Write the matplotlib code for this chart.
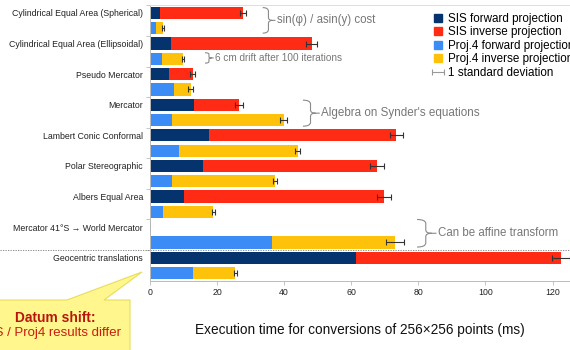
import numpy as np
import matplotlib
matplotlib.use("Agg")
import matplotlib.pyplot as plt
import matplotlib.transforms as mtransforms
from matplotlib.path import Path
from matplotlib.patches import PathPatch, Patch, Polygon
from matplotlib.lines import Line2D

plt.rcParams['font.family'] = ['Liberation Sans', 'DejaVu Sans']

# conversion times (ms) for 256x256 points
labels = ["Cylindrical Equal Area (Spherical)", "Cylindrical Equal Area (Ellipsoidal)",
          "Pseudo Mercator", "Mercator", "Lambert Conic Conformal", "Polar Stereographic",
          "Albers Equal Area", "Mercator 41°S \u2192 World Mercator", "Geocentric translations"]
sis_fwd = [2.9, 6.3, 5.7, 13.2, 17.7, 15.8, 10.1, 0.2, 61.5]
sis_inv = [24.9, 41.9, 7.0, 13.3, 55.7, 51.9, 59.6, 0.1, 61.1]
sis_err = [0.9, 1.7, 0.8, 1.2, 1.9, 2.1, 2.1, 0.0, 2.7]
proj_fwd = [1.7, 3.6, 7.1, 6.7, 8.7, 6.5, 4.0, 36.4, 12.7]
proj_inv = [2.2, 6.2, 5.0, 33.2, 35.3, 30.8, 14.9, 36.7, 12.7]
proj_err = [0.4, 0.2, 0.8, 1.0, 0.8, 0.5, 0.5, 2.7, 0.5]

c_sis_fwd = "#04336e"
c_sis_inv = "#ff2b14"
c_proj_fwd = "#3b8df5"
c_proj_inv = "#ffc20a"

fig = plt.figure(figsize=(5.7, 3.5), dpi=100)
ax = fig.add_axes([150/570, 1-281/350, 420/570, 276/350])

n = len(labels)
y_sis = np.arange(n) * 2
y_proj = y_sis + 1
h = 0.8
sis_fwd = np.array(sis_fwd); sis_inv = np.array(sis_inv)
proj_fwd = np.array(proj_fwd); proj_inv = np.array(proj_inv)

ax.barh(y_sis, sis_fwd, height=h, color=c_sis_fwd)
ax.barh(y_sis, sis_inv, left=sis_fwd, height=h, color=c_sis_inv)
ax.barh(y_proj, proj_fwd, height=h, color=c_proj_fwd)
ax.barh(y_proj, proj_inv, left=proj_fwd, height=h, color=c_proj_inv)

eb = dict(fmt='none', ecolor='#333333', elinewidth=0.8, capsize=2.2, capthick=0.8)
mask = np.array(sis_err) > 0
ax.errorbar((sis_fwd + sis_inv)[mask], y_sis[mask], xerr=np.array(sis_err)[mask], **eb)
ax.errorbar(proj_fwd + proj_inv, y_proj, xerr=proj_err, **eb)
# dummy errorbar, only used as legend handle
err_handle = ax.errorbar([-50], [-50], xerr=[3], fmt='none', ecolor='#999999',
                         elinewidth=0.8, capsize=2.5, capthick=0.8)

ax.set_xlim(0, 125.2)
ax.set_ylim(2*n - 0.48, -0.52)
ax.set_xticks(np.arange(0, 121, 20))
ax.tick_params(axis='x', labelsize=6.3, length=3, width=0.6, pad=2,
               colors='#bbbbbb', labelcolor='#222222')
ax.set_yticks(y_sis)
ax.set_yticklabels(labels, fontsize=6.3, color='#222222')
ax.tick_params(axis='y', which='major', length=0, pad=5)
ax.set_yticks(np.arange(n) * 2 - 0.5, minor=True)
ax.tick_params(axis='y', which='minor', length=3, width=0.6, color='#bbbbbb')
ax.spines['right'].set_visible(False)
ax.spines['left'].set_color('#bbbbbb')
ax.spines['bottom'].set_color('#bbbbbb')
ax.spines['top'].set_color('#dddddd')
for s in ['left', 'bottom', 'top']:
    ax.spines[s].set_linewidth(0.7)

ax.set_xlabel("Execution time for conversions of 256\u00d7256 points (ms)", fontsize=9.8,
              color='#111111', labelpad=19)

# dotted separator before datum shift
trans = mtransforms.blended_transform_factory(fig.transFigure, ax.transData)
ax.add_line(Line2D([0, 1], [2*n - 2.5, 2*n - 2.5], transform=trans, color='#777777',
                   linestyle=(0, (1.5, 1.5)), linewidth=0.6, clip_on=False))


def brace(x0, x1, y0, y1, text, size):
    w = x1 - x0
    hh = y1 - y0
    xm = x0 + 0.45*w
    xt = x0 + 0.75*w
    ym = (y0 + y1) / 2
    verts = [(x0, y0), (xm, y0), (xm, y0 + 0.15*hh), (xm, ym - 0.12*hh),
             (xm, ym), (xt, ym), (x1, ym),
             (xt, ym), (xm, ym), (xm, ym + 0.12*hh), (xm, y1 - 0.15*hh),
             (xm, y1), (x0, y1)]
    codes = [Path.MOVETO, Path.CURVE3, Path.CURVE3, Path.LINETO,
             Path.CURVE3, Path.CURVE3, Path.LINETO,
             Path.MOVETO, Path.CURVE3, Path.CURVE3, Path.LINETO,
             Path.CURVE3, Path.CURVE3]
    ax.add_patch(PathPatch(Path(verts, codes), fill=False, edgecolor='#8a8a8a',
                           linewidth=0.8, clip_on=False))
    ax.text(x1 + 0.4, ym, text, fontsize=size, color='#777777', va='center', ha='left',
            clip_on=False)


brace(33.6, 37.4, -0.35, 1.32, "sin(\u03c6) / asin(y) cost", 8.3)
brace(16.4, 19.0, 2.6, 3.28, "6 cm drift after 100 iterations", 7.2)
brace(45.6, 50.6, 5.7, 7.4, "Algebra on Synder's equations", 8.4)
brace(79.6, 85.4, 13.5, 15.3, "Can be affine transform", 8.3)

# legend
handles = [Patch(color=c_sis_fwd), Patch(color=c_sis_inv), Patch(color=c_proj_fwd),
           Patch(color=c_proj_inv), err_handle]
names = ["SIS forward projection", "SIS inverse projection", "Proj.4 forward projection",
         "Proj.4 inverse projection", "1 standard deviation"]
fig.legend(handles, names, loc='upper left', bbox_to_anchor=(434/570, 1 - 13/350),
           frameon=False, fontsize=8.4, handlelength=0.65, handleheight=0.65,
           handletextpad=0.55, labelspacing=0.12, borderaxespad=0, borderpad=0)

# callout box for datum shift
box = [(-5, 300), (67, 300), (142, 272), (104, 300), (130, 300), (130, 360), (-5, 360)]
box = [(x/570, 1 - y/350) for x, y in box]
fig.add_artist(Polygon(box, closed=True, transform=fig.transFigure, facecolor='#fff78e',
                       edgecolor='#e9dc5a', linewidth=0.8))
fig.text(55/570, 1 - 318/350, "Datum shift:", fontsize=9.9, fontweight='bold',
         color='#b8150d', ha='center', va='center')
fig.text(121/570, 1 - 333/350, "SIS / Proj4 results differ", fontsize=9.5,
         color='#cc1b10', ha='right', va='center')

fig.savefig("out.png", dpi=100)
